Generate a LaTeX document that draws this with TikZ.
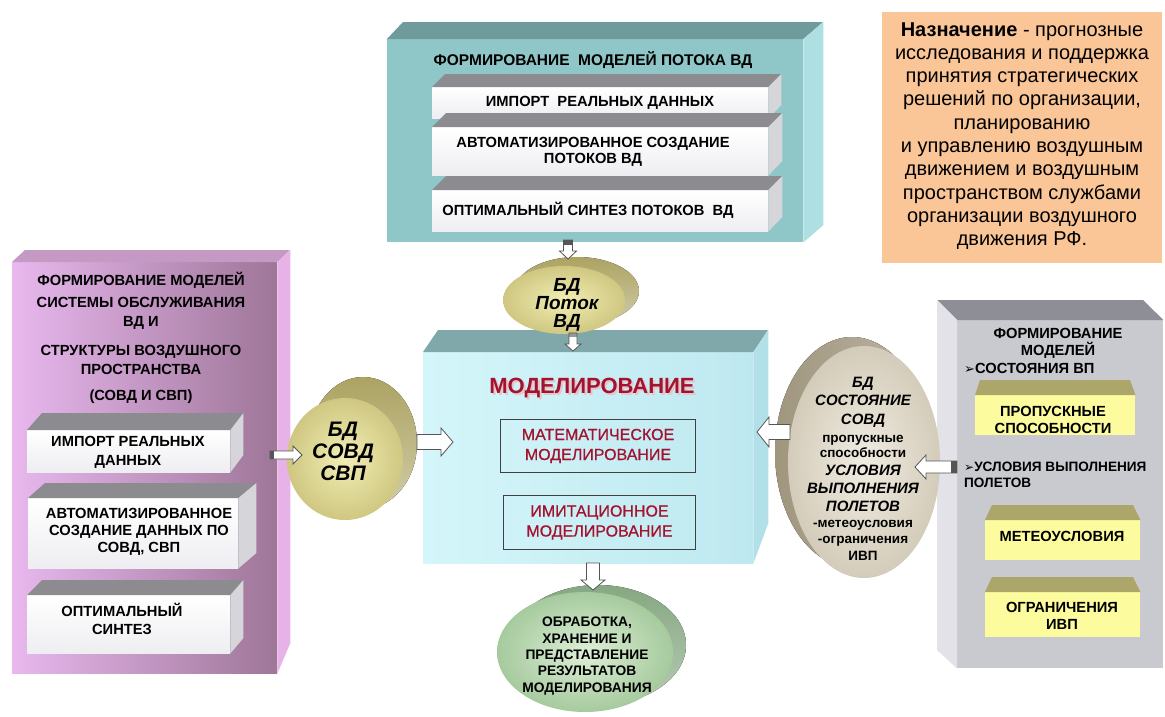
\documentclass[tikz,border=0pt]{standalone}
\usepackage{fontspec}
\setmainfont{Liberation Sans}
\newfontfamily\symfont{DejaVu Sans}
\newfontfamily\redfont[FakeBold=0.7]{Liberation Sans}
\usetikzlibrary{calc,shapes.geometric}
\definecolor{tealF}{HTML}{8FC7C8}
\definecolor{tealT}{HTML}{6F9B9C}
\definecolor{tealS}{HTML}{ADDFE3}
\definecolor{barT}{HTML}{8C8C90}
\definecolor{barS}{HTML}{D6D6DA}
\definecolor{barF}{HTML}{EEEEF2}
\definecolor{purL}{HTML}{E8B8EE}
\definecolor{purD}{HTML}{9E7698}
\definecolor{purS}{HTML}{E6B2E8}
\definecolor{purT}{HTML}{C49AC4}
\definecolor{cyanF}{HTML}{BEE8F0}
\definecolor{cyanL}{HTML}{D4F6FA}
\definecolor{cyanT}{HTML}{80A8AA}
\definecolor{cyanS}{HTML}{B2E0E8}
\definecolor{grayF}{HTML}{C9C9D0}
\definecolor{grayS}{HTML}{E2E2E8}
\definecolor{grayT}{HTML}{8E8E96}
\definecolor{yelF}{HTML}{FCFC9E}
\definecolor{yelT}{HTML}{ACA66A}
\definecolor{orangeF}{HTML}{FAC597}
\definecolor{redT}{HTML}{A3122E}
\definecolor{dbYa}{HTML}{F2EEB4}
\definecolor{dbYb}{HTML}{CFC781}
\definecolor{dbYc}{HTML}{ACA362}
\definecolor{dbBa}{HTML}{F0ECE2}
\definecolor{dbBb}{HTML}{D4CCBA}
\definecolor{dbBc}{HTML}{A0967E}
\definecolor{dbGa}{HTML}{DDEFD6}
\definecolor{dbGb}{HTML}{A6CA9E}
\definecolor{dbGc}{HTML}{86A882}
\definecolor{arrG}{HTML}{555555}
% block arrow: #1 tail point, #2 direction angle, #3 length, #4 shaft width,
% #5 head width, #6 head length, #7 dark tail length, #8 tail colour
\newcommand{\blockarr}[8]{%
  \begin{scope}[shift={#1},rotate=#2]
    \fill[white] (0,-#4/2) -- (#3-#6,-#4/2) -- (#3-#6,-#5/2) -- (#3,0) -- (#3-#6,#5/2) -- (#3-#6,#4/2) -- (0,#4/2) -- cycle;
    \fill[#8] (0,-#4/2) rectangle (#7,#4/2);
    \draw[arrG,line width=0.8pt,line join=miter] (0,-#4/2) -- (#3-#6,-#4/2) -- (#3-#6,-#5/2) -- (#3,0) -- (#3-#6,#5/2) -- (#3-#6,#4/2) -- (0,#4/2) -- cycle;
  \end{scope}}
\begin{document}
\begin{tikzpicture}[x=1pt,y=-1pt,
  face/.style={rectangle,inner sep=0pt,anchor=north west,draw=none},
  bold/.style={font=\fontsize{14.7pt}{17pt}\selectfont\bfseries,align=center,inner sep=0pt},
  redbox/.style={draw=black!75,line width=1pt,anchor=north west,inner sep=0pt,
     font=\fontsize{16pt}{20pt}\redfont,text=redT,align=center}]
\useasboundingbox (0,0) rectangle (1165,716);
\fill[white] (0,0) rectangle (1165,716);

% ---------- top box: flow models ----------
\node[face,minimum width=416pt,minimum height=203pt,fill=tealF] (flow) at (387,39) {};
\fill[tealT] (flow.north west) -- ++(16,-17) -- ++(420,0) -- (flow.north east) -- cycle;
\fill[tealS] (flow.north east) -- ++(20,-17) -- ++(0,203) -- (flow.south east) -- cycle;
\node[bold,font=\fontsize{15.5pt}{17pt}\selectfont\bfseries] (flowtitle) at (593,60) {ФОРМИРОВАНИЕ\ \ МОДЕЛЕЙ ПОТОКА ВД};

\node[face,minimum width=336pt,minimum height=31pt,top color=white,bottom color=barF] (fb1) at (432,87) {};
\fill[barT] (fb1.north west) -- ++(13,-13) -- ++(336,0) -- (fb1.north east) -- cycle;
\fill[barS] (fb1.north east) -- ++(13,-13) -- ++(0,31) -- (fb1.south east) -- cycle;
\node[bold] (fb1t) at (600,103) {ИМПОРТ\ \ РЕАЛЬНЫХ ДАННЫХ};

\node[face,minimum width=336pt,minimum height=48pt,top color=white,bottom color=barF] (fb2) at (432,127) {};
\fill[barT] (fb2.north west) -- ++(14,-14) -- ++(336,0) -- (fb2.north east) -- cycle;
\fill[barS] (fb2.north east) -- ++(14,-14) -- ++(0,48) -- (fb2.south east) -- cycle;
\node[bold,font=\fontsize{14.7pt}{15.5pt}\selectfont\bfseries] (fb2t) at (593,152) {АВТОМАТИЗИРОВАННОЕ СОЗДАНИЕ\\ПОТОКОВ ВД};

\node[face,minimum width=336pt,minimum height=41pt,top color=white,bottom color=barF] (fb3) at (432,190) {};
\fill[barT] (fb3.north west) -- ++(14,-14) -- ++(336,0) -- (fb3.north east) -- cycle;
\fill[barS] (fb3.north east) -- ++(14,-14) -- ++(0,41) -- (fb3.south east) -- cycle;
\node[bold] (fb3t) at (588,210) {ОПТИМАЛЬНЫЙ СИНТЕЗ ПОТОКОВ\ \ ВД};

% ---------- purpose box ----------
\node[face,minimum width=280pt,minimum height=251pt,fill=orangeF] (purpose) at (882,12) {};
\node[font=\fontsize{20pt}{23.3pt}\selectfont,align=center,inner sep=0pt] (purposet) at (1022,136)
 {\textbf{Назначение} - прогнозные\\исследования и поддержка\\принятия стратегических\\решений по организации,\\планированию\\и управлению воздушным\\движением и воздушным\\пространством службами\\организации воздушного\\движения РФ.};

% ---------- left box ----------
\node[face,minimum width=265pt,minimum height=411pt,left color=purL,right color=purD] (sovdbox) at (12,262) {};
\fill[purT] (sovdbox.north west) -- ++(13,-12) -- ++(265,0) -- (sovdbox.north east) -- cycle;
\fill[purS] (sovdbox.north east) -- ++(13,-12) -- ++(0,393) -- (sovdbox.south east) -- cycle;
\node[bold] (lt1) at (141,280) {ФОРМИРОВАНИЕ МОДЕЛЕЙ};
\node[bold,font=\fontsize{14.7pt}{19pt}\selectfont\bfseries] (lt2) at (141,313) {СИСТЕМЫ ОБСЛУЖИВАНИЯ\\ВД И};
\node[bold,font=\fontsize{14.7pt}{19.5pt}\selectfont\bfseries] (lt3) at (141,360) {СТРУКТУРЫ ВОЗДУШНОГО\\ПРОСТРАНСТВА};
\node[bold] (lt4) at (141,397) {(СОВД И СВП)};

\node[face,minimum width=203pt,minimum height=42pt,top color=white,bottom color=barF] (lb1) at (27,430) {};
\fill[barT] (lb1.north west) -- ++(15,-17) -- ++(203,0) -- (lb1.north east) -- cycle;
\fill[barS] (lb1.north east) -- ++(13,-17) -- ++(0,42) -- (lb1.south east) -- cycle;
\node[bold,font=\fontsize{14.7pt}{19pt}\selectfont\bfseries] (lb1t) at (128,452) {ИМПОРТ РЕАЛЬНЫХ\\ДАННЫХ};

\node[face,minimum width=210pt,minimum height=70pt,top color=white,bottom color=barF] (lb2) at (28,498) {};
\fill[barT] (lb2.north west) -- ++(17,-15) -- ++(210,0) -- (lb2.north east) -- cycle;
\fill[barS] (lb2.north east) -- ++(18,-15) -- ++(0,70) -- (lb2.south east) -- cycle;
\node[bold] (lb2t) at (139,532) {АВТОМАТИЗИРОВАННОЕ\\СОЗДАНИЕ ДАННЫХ ПО\\СОВД, СВП};

\node[face,minimum width=203pt,minimum height=58pt,top color=white,bottom color=barF] (lb3) at (27,595) {};
\fill[barT] (lb3.north west) -- ++(15,-15) -- ++(203,0) -- (lb3.north east) -- cycle;
\fill[barS] (lb3.north east) -- ++(13,-15) -- ++(0,58) -- (lb3.south east) -- cycle;
\node[bold,font=\fontsize{14.7pt}{18pt}\selectfont\bfseries] (lb3t) at (122,619) {ОПТИМАЛЬНЫЙ\\СИНТЕЗ};

% ---------- center box ----------
\node[face,minimum width=330pt,minimum height=211pt,left color=cyanL,right color=cyanF] (model) at (423,352) {};
\fill[cyanT] (model.north west) -- ++(15,-22) -- ++(330,0) -- (model.north east) -- cycle;
\fill[cyanS] (model.north east) -- ++(15,-22) -- ++(0,193) -- (model.south east) -- cycle;
\node[font=\fontsize{22pt}{24pt}\selectfont\bfseries,text=redT!25,inner sep=0pt] (mtshadow) at (594,390) {МОДЕЛИРОВАНИЕ};
\node[font=\fontsize{22pt}{24pt}\selectfont\bfseries,text=redT,inner sep=0pt] (mtitle) at (592,388) {МОДЕЛИРОВАНИЕ};
\node[redbox,minimum width=195pt,minimum height=53pt] (mathm) at (500,419) {МАТЕМАТИЧЕСКОЕ\\МОДЕЛИРОВАНИЕ};
\node[redbox,minimum width=192pt,minimum height=54pt] (simm) at (503,495) {ИМИТАЦИОННОЕ\\МОДЕЛИРОВАНИЕ};

% ---------- right box ----------
\node[face,minimum width=206pt,minimum height=348pt,fill=grayF] (statebox) at (957,320) {};
\fill[grayT] (statebox.north west) -- ++(-20,-20) -- ++(206,0) -- (statebox.north east) -- cycle;
\fill[grayS] (statebox.north west) -- ++(-20,-20) -- ++(0,350) -- (statebox.south west) -- cycle;
\node[bold] (rt1) at (1058,343) {ФОРМИРОВАНИЕ\\МОДЕЛЕЙ};
\node[bold,anchor=west] (rt2) at (964,368) {{\symfont\fontsize{13pt}{13pt}\selectfont ➢}СОСТОЯНИЯ ВП};

\node[face,minimum width=160pt,minimum height=40pt,fill=yelF] (ys1) at (975,395) {};
\fill[yelT] (ys1.north west) -- ++(5,-15) -- ++(150,0) -- (ys1.north east) -- cycle;
\node[bold] (ys1t) at (1053,420) {ПРОПУСКНЫЕ\\СПОСОБНОСТИ};

\node[bold,font=\fontsize{13.6pt}{16.5pt}\selectfont\bfseries,anchor=west,align=left] (rt3) at (964,475)
 {{\symfont\fontsize{12pt}{12pt}\selectfont ➢}УСЛОВИЯ ВЫПОЛНЕНИЯ\\ПОЛЕТОВ};

\node[face,minimum width=155pt,minimum height=40pt,fill=yelF] (ys2) at (985,520) {};
\fill[yelT] (ys2.north west) -- ++(7,-15) -- ++(141,0) -- (ys2.north east) -- cycle;
\node[bold] (ys2t) at (1062,536) {МЕТЕОУСЛОВИЯ};

\node[face,minimum width=155pt,minimum height=45pt,fill=yelF] (ys3) at (985,592) {};
\fill[yelT] (ys3.north west) -- ++(7,-15) -- ++(141,0) -- (ys3.north east) -- cycle;
\node[bold] (ys3t) at (1062,616) {ОГРАНИЧЕНИЯ\\ИВП};

% ---------- databases ----------
\fill[top color=dbYc,bottom color=dbYc!55!white] (577,291) ellipse [x radius=62pt,y radius=34pt];
\node[ellipse,minimum width=122pt,minimum height=68pt,inner sep=0pt,inner color=dbYa,outer color=dbYb] (dbflow) at (564,300) {};
\node[font=\fontsize{19pt}{18pt}\selectfont\bfseries\itshape,align=center,inner sep=0pt] (dbflowt) at (567,305) {БД\\Поток\\ВД};

\fill[top color=dbYc,bottom color=dbYc!55!white] (363,443) ellipse [x radius=54pt,y radius=66pt];
\node[ellipse,minimum width=116pt,minimum height=122pt,inner sep=0pt,inner color=dbYa,outer color=dbYb] (dbsovd) at (345,459) {};
\node[font=\fontsize{21pt}{22pt}\selectfont\bfseries\itshape,align=center,inner sep=0pt] (dbsovdt) at (343,451) {БД\\СОВД\\СВП};

\fill[left color=dbBc,right color=dbBc!70!white] (852,452) ellipse [x radius=77pt,y radius=115pt];
\node[ellipse,minimum width=152pt,minimum height=232pt,inner sep=0pt,inner color=dbBa,outer color=dbBb] (dbstate) at (864,462) {};
\node[font=\fontsize{15pt}{18.5pt}\selectfont\bfseries\itshape,align=center,inner sep=0pt] (dbs1) at (863,402) {БД\\СОСТОЯНИЕ\\СОВД};
\node[font=\fontsize{13.5pt}{15pt}\selectfont\bfseries,align=center,inner sep=0pt] (dbs2) at (863,446) {пропускные\\способности};
\node[font=\fontsize{15pt}{18pt}\selectfont\bfseries\itshape,align=center,inner sep=0pt] (dbs3) at (863,488) {УСЛОВИЯ\\ВЫПОЛНЕНИЯ\\ПОЛЕТОВ};
\node[font=\fontsize{13.5pt}{16.5pt}\selectfont\bfseries,align=center,inner sep=0pt] (dbs4) at (863,540) {-метеоусловия\\-ограничения\\ИВП};

\fill[top color=dbGc,bottom color=dbGc!60!white] (598,645) ellipse [x radius=88pt,y radius=60pt];
\node[ellipse,minimum width=176pt,minimum height=120pt,inner sep=0pt,inner color=dbGa,outer color=dbGb] (result) at (585,652) {};
\node[bold,font=\fontsize{13.8pt}{16.3pt}\selectfont\bfseries] (resultt) at (587,656) {ОБРАБОТКА,\\ХРАНЕНИЕ И\\ПРЕДСТАВЛЕНИЕ\\РЕЗУЛЬТАТОВ\\МОДЕЛИРОВАНИЯ};

% ---------- block arrows (tail point, direction) ----------
\blockarr{(568,240)}{-90}{19}{9}{17}{8}{5}{arrG}      % flow -> dbflow
\blockarr{(573,333)}{-90}{18}{8}{16}{7}{4}{arrG!60}   % dbflow -> model
\blockarr{(270,455)}{0}{32}{8}{18}{9}{4}{arrG}        % sovdbox -> dbsovd
\blockarr{(417,442)}{0}{36}{15}{28}{12}{0}{white}     % dbsovd -> model
\blockarr{(790,432)}{180}{33}{15}{30}{12}{0}{white}   % dbstate -> model
\blockarr{(957,467)}{180}{42}{12}{24}{11}{6}{arrG}    % statebox -> dbstate
\blockarr{(593,563)}{-90}{27}{13}{24}{10}{0}{white}   % model -> result
\end{tikzpicture}
\end{document}
